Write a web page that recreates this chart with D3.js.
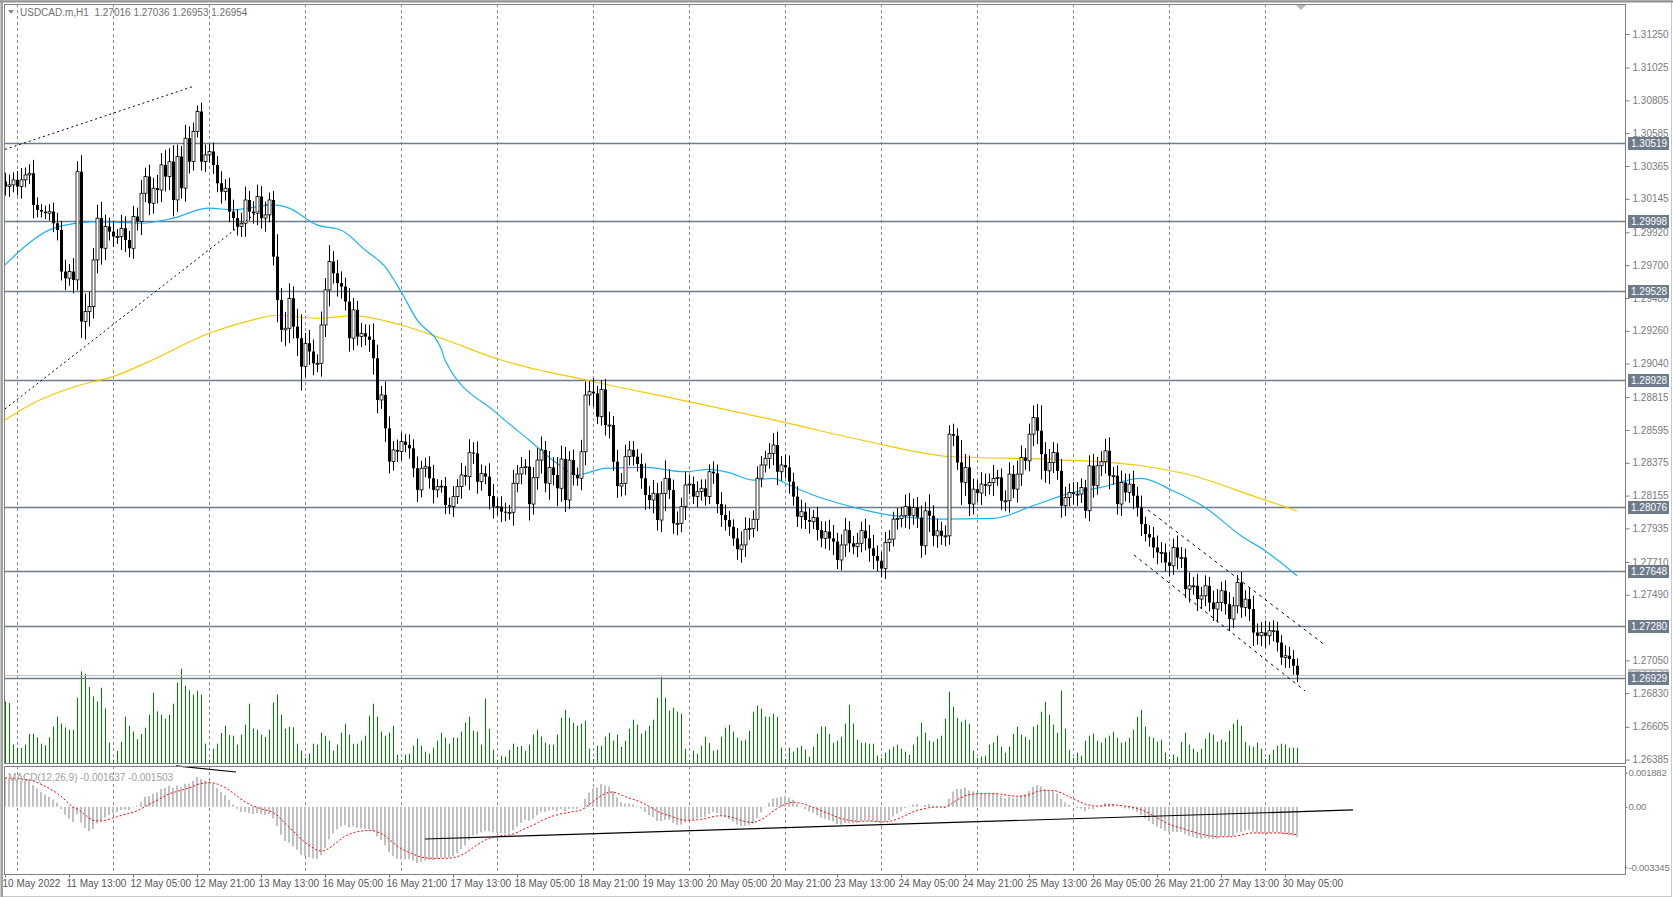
<!DOCTYPE html>
<html>
<head>
<meta charset="utf-8">
<script src="https://cdn.jsdelivr.net/npm/d3@7"></script>
<style>
  body { margin: 0; background: #fff; }
  svg { display: block; font-family: Tahoma, "Liberation Sans", "DejaVu Sans", sans-serif; }
</style>
</head>
<body>
<svg id="chart" width="1673" height="897"></svg>
<script>
// hourly closes USDCAD.m H1, 10 May 21:00 .. 30 May 08:00
const closes = [
1.30227,1.30238,1.30272,1.30227,1.30272,1.30305,1.30316,1.30104,1.30070,1.30059,
1.30048,1.30059,1.29981,1.29936,1.29657,1.29612,1.29657,1.29601,1.30327,1.29322,
1.29389,1.29422,1.29735,1.30015,1.29813,1.29959,1.29925,1.29892,1.29892,1.29947,
1.29869,1.29813,1.30026,1.29992,1.30182,1.30294,1.30115,1.30216,1.30204,1.30372,
1.30294,1.30394,1.30137,1.30428,1.30216,1.30551,1.30394,1.30596,1.30730,1.30394,
1.30439,1.30462,1.30372,1.30249,1.30193,1.30216,1.30059,1.30015,1.29959,1.29981,
1.30137,1.30059,1.30048,1.30160,1.30015,1.30037,1.30137,1.29757,1.29467,1.29266,
1.29277,1.29478,1.29288,1.29210,1.29020,1.29176,1.29121,1.29042,1.29042,1.29299,
1.29534,1.29724,1.29646,1.29579,1.29556,1.29456,1.29210,1.29400,1.29221,1.29243,
1.29221,1.29199,1.29076,1.28796,1.28830,1.28606,1.28383,1.28461,1.28450,1.28517,
1.28495,1.28472,1.28338,1.28193,1.28338,1.28349,1.28271,1.28193,
1.28215,1.28219,1.28092,1.28081,1.28148,1.28215,1.28293,1.28282,1.28443,1.28438,
1.28248,1.28304,1.28282,1.28152,1.28081,1.28081,1.28047,1.28043,1.28043,1.28237,
1.28300,1.28344,1.28349,1.28098,1.28275,1.28393,1.28461,1.28237,1.28344,1.28293,
1.28204,1.28400,1.28125,1.28393,1.28293,1.28271,1.28449,1.28829,1.28852,1.28840,
1.28684,1.28867,1.28628,1.28628,1.28382,1.28219,1.28237,1.28416,1.28461,1.28416,
1.28367,1.28271,1.28159,1.28125,1.28170,1.27991,1.28170,1.28271,1.28192,1.27969,
1.27969,1.28081,1.28226,1.28233,1.28148,1.28181,1.28204,1.28148,1.28315,1.28304,
1.28098,1.28025,1.27991,1.27946,1.27868,1.27795,1.27824,1.27929,1.27935,1.27996,
1.28271,1.28360,1.28405,1.28438,1.28494,1.28315,1.28360,1.28344,1.28248,1.28148,
1.28014,1.28047,1.27991,1.27980,1.28009,1.27924,1.27868,1.27913,1.27868,1.27846,
1.27723,1.27824,1.27924,1.27835,1.27812,1.27835,1.27920,1.27868,1.27801,
1.27751,1.27718,1.27666,1.27841,1.27863,1.27997,1.28002,1.28020,1.28082,1.28020,
1.28075,1.28008,1.27818,1.28053,1.28020,1.27885,1.27919,1.27885,1.27885,1.28567,
1.28556,1.28377,1.28243,1.28344,1.28098,1.28198,1.28172,1.28232,1.28221,1.28243,
1.28270,1.28277,1.28120,1.28120,1.28299,1.28198,1.28299,1.28411,1.28388,1.28567,
1.28679,1.28590,1.28433,1.28321,1.28377,1.28444,1.28321,1.28087,1.28143,1.28176,
1.28165,1.28165,1.28210,1.28053,1.28355,1.28221,1.28355,1.28382,1.28455,1.28288,
1.28288,1.28098,1.28243,1.28176,1.28232,1.28154,1.28075,1.27964,1.27897,1.27874,
1.27807,1.27774,1.27774,1.27707,1.27684,1.27807,1.27740,1.27740,1.27528,1.27550,
1.27550,1.27461,1.27483,1.27550,1.27438,1.27394,1.27438,1.27517,1.27427,1.27327,
1.27416,1.27573,1.27405,1.27461,1.27394,1.27237,1.27215,1.27237,1.27215,1.27249,
1.27249,1.27170,1.27070,1.27081,1.27059,1.27014,1.26954
];
const firstOpen = 1.30260;

// wick length per bar, in points (0.00001)
const wicks = [
60,70,50,60,80,50,60,90,50,40,40,50,60,70,60,80,50,90,70,110,
120,100,80,90,110,80,60,70,50,90,80,60,70,60,90,60,80,70,90,80,
100,90,110,80,70,90,80,60,40,60,70,50,60,60,80,60,70,80,60,70,
90,60,70,80,70,90,50,60,150,80,110,100,80,120,160,70,90,80,60,90,
80,110,70,90,80,60,90,80,60,70,60,80,110,90,60,90,80,60,70,60,
50,70,60,80,50,60,70,90,50,40,60,50,70,50,80,60,90,70,80,60,
50,90,80,60,70,60,50,90,60,70,50,110,70,80,90,60,110,70,120,90,
80,60,70,50,80,90,70,90,50,60,70,90,60,80,70,80,60,60,50,70,
100,60,90,70,80,120,60,70,80,60,90,60,50,70,60,60,50,70,60,80,
70,60,50,70,90,80,70,60,80,60,50,70,80,90,60,70,80,60,70,80,
60,80,50,70,60,70,80,90,60,70,80,60,50,70,60,80,90,90,70,60,
70,60,50,70,60,80,90,60,70,80,60,110,70,80,60,70,60,70,50,150,
90,80,70,60,80,70,60,90,50,60,70,80,60,90,80,60,70,80,90,170,
80,90,70,60,80,70,60,70,80,60,50,70,80,60,70,80,90,60,70,80,
60,70,90,60,80,50,60,70,80,70,60,70,60,80,70,60,90,60,80,60,
70,60,80,90,60,70,80,60,50,70,60,80,90,60,70,80,60,70,60,50,
70,60,60,50
];

// tick volume (relative units)
const volumes = [
185,180,55,45,45,55,88,88,77,58,53,77,109,139,118,107,100,100,196,275,
268,228,200,185,226,164,61,10,37,64,139,112,94,71,87,106,145,211,155,145,
133,145,178,241,283,232,218,205,217,205,58,10,43,58,90,112,84,82,55,85,
115,178,103,100,85,78,100,181,205,145,103,109,107,58,37,15,28,58,55,91,
82,67,37,55,91,118,85,58,58,67,82,142,178,139,94,82,91,112,25,10,
25,28,52,73,52,34,28,46,67,91,76,58,76,76,94,121,139,97,94,55,
193,103,40,10,22,19,40,58,49,51,37,55,85,100,79,61,55,55,85,136,
160,136,121,112,118,127,43,12,52,52,79,91,67,85,49,67,103,130,115,88,
97,112,130,196,259,196,157,166,154,148,43,10,37,28,52,79,61,37,40,79,
106,115,94,76,67,70,97,154,172,163,139,139,148,139,46,12,46,34,46,52,
40,19,49,88,109,109,88,61,67,79,118,175,118,70,61,61,58,58,22,15,
31,40,49,55,43,34,25,55,79,121,91,67,64,73,82,133,214,169,136,124,
130,118,37,15,19,22,55,61,82,49,31,49,88,109,85,79,70,109,115,154,
184,145,115,91,217,103,40,15,31,22,67,82,88,67,61,76,82,94,76,61,
64,76,100,139,160,109,79,76,64,70,31,12,25,19,64,91,55,43,34,43,
73,91,85,64,70,64,97,118,130,112,64,52,49,61,43,12,25,40,52,58,
55,46,46,46
];

// moving averages read at sample bars
const maFastIdx = [0,7,12,23,34,42,51,57,67,71,78,84,90,95,99,103,109,110,123,131,138,143,150,160,170,176,181,187,192,196,202,210,215,222,234,247,257,267,274,284,292,300,309,315,323];
const maFastVal = [1.29702,1.29869,1.29947,1.29992,1.29981,1.30015,1.30082,1.30071,1.30104,1.30082,1.29970,1.29936,1.29802,1.29690,1.29523,1.29333,1.29143,1.29064,1.28706,1.28528,1.28371,1.28293,1.28338,1.28344,1.28315,1.28331,1.28309,1.28259,1.28271,1.28226,1.28159,1.28092,1.28058,1.28020,1.27997,1.28002,1.28087,1.28176,1.28210,1.28270,1.28187,1.28075,1.27886,1.27785,1.27617];
const maSlowIdx = [0,7,18,27,36,51,62,68,78,87,99,109,124,146,171,194,216,236,264,284,297,313,323];
const maSlowVal = [1.28662,1.28774,1.28890,1.28953,1.29053,1.29243,1.29333,1.29364,1.29344,1.29360,1.29299,1.29210,1.29064,1.28925,1.28785,1.28651,1.28516,1.28417,1.28395,1.28355,1.28288,1.28143,1.28053];

// horizontal levels
const levels = [1.30519, 1.29998, 1.29528, 1.28928, 1.28076, 1.27648, 1.27280, 1.26929];
const bidPrice = 1.26954;

// trend lines [i1, p1, i2, p2, style]
const trendLines = [
  [0, 1.30476, 47, 1.30898, "2,3"],
  [0, 1.28736, 66, 1.30117, "2,3"],
  [285.75, 1.28059, 330.25, 1.27147, "3,4"],
  [282.25, 1.27757, 325, 1.26845, "3,4"]
];
const macdLines = [
  [42.75, 0.00226, 57.75, 0.00192],
  [105, -0.00178, 337, -0.000177]
];

const priceTicks = [1.31250,1.31025,1.30805,1.30585,1.30365,1.30145,1.29920,1.29700,1.29480,1.29260,1.29040,1.28815,1.28595,1.28375,1.28155,1.27935,1.27710,1.27490,1.27050,1.26830,1.26605,1.26385];
const macdTicks = [0.001882, 0, -0.003345];
const macdTickText = ["0.001882", "0.00", "-0.003345"];
const dateLabels = ["10 May 2022","11 May 13:00","12 May 05:00","12 May 21:00","13 May 13:00","16 May 05:00","16 May 21:00","17 May 13:00","18 May 05:00","18 May 21:00","19 May 13:00","20 May 05:00","20 May 21:00","23 May 13:00","24 May 05:00","24 May 21:00","25 May 13:00","26 May 05:00","26 May 21:00","27 May 13:00","30 May 05:00"];
const gridIdx = [3,27,51,75,99,123,147,171,195,219,243,267,291,315];
const header = "USDCAD.m,H1  1.27016 1.27036 1.26953 1.26954";
const macdHeader = "MACD(12,26,9) -0.001637 -0.001503";
// indicator state carried over from earlier history
const macdSeed = {ema12: 1.30110, ema26: 1.29950, signal: 0.00160};

const L = 4, R = 1625, T = 4, B = 763, MT = 766, MB = 874;
const FS = "10px";
const svg = d3.select("#chart");
const n = closes.length;
const x = d3.scaleLinear().domain([0, n - 1]).range([5, 5 + 4 * (n - 1)]);
const y = d3.scaleLinear().domain([1.26362, 1.31451]).range([B, T]);
const yVol = d3.scaleLinear().domain([0, 283]).range([B, B - 94.3]);
const yM = d3.scaleLinear().domain([-0.003345, 0.001882]).range([867.3, 772.7]);

// outer frame
svg.append("rect").attr("x", 0.5).attr("y", 0.5).attr("width", 1671).attr("height", 896).attr("fill", "none").attr("stroke", "#c8c8c8");
svg.append("line").attr("x1", 0).attr("x2", 1673).attr("y1", 1.5).attr("y2", 1.5).attr("stroke", "#909090").attr("stroke-width", 2);

svg.append("clipPath").attr("id", "cm").append("rect").attr("x", L).attr("y", T).attr("width", R - L).attr("height", B - T);
svg.append("clipPath").attr("id", "cd").append("rect").attr("x", L).attr("y", MT).attr("width", R - L).attr("height", MB - MT);

// grid
svg.append("g").selectAll("line").data(gridIdx).join("line")
  .attr("x1", d => x(d) + 0.5).attr("x2", d => x(d) + 0.5).attr("y1", T).attr("y2", MB)
  .attr("stroke", "#8c8c8c").attr("stroke-dasharray", "3,3");

const main = svg.append("g").attr("clip-path", "url(#cm)");

// volumes
main.append("g").selectAll("line").data(volumes).join("line")
  .attr("x1", (d, i) => x(i) + 0.5).attr("x2", (d, i) => x(i) + 0.5)
  .attr("y1", B).attr("y2", d => yVol(d)).attr("stroke", "#008000").attr("stroke-width", 1);

// levels
main.append("line").attr("x1", L).attr("x2", R).attr("y1", Math.round(y(bidPrice)) + 0.5).attr("y2", Math.round(y(bidPrice)) + 0.5).attr("stroke", "#c0c0c0");
main.append("g").selectAll("line").data(levels).join("line")
  .attr("x1", L).attr("x2", R).attr("y1", d => Math.round(y(d)) + 0.5).attr("y2", d => Math.round(y(d)) + 0.5)
  .attr("stroke", "#6e7b8b").attr("stroke-width", 1.3);

// moving averages
const maLine = d3.line().x(d => x(d[0])).y(d => y(d[1])).curve(d3.curveMonotoneX);
main.append("path").attr("d", maLine(maSlowIdx.map((d, i) => [d, maSlowVal[i]]))).attr("fill", "none").attr("stroke", "#f5c800").attr("stroke-width", 1.2);
main.append("path").attr("d", maLine(maFastIdx.map((d, i) => [d, maFastVal[i]]))).attr("fill", "none").attr("stroke", "#1ab2f0").attr("stroke-width", 1.2);

// candles
const bars = closes.map((c, i) => {
  const o = i === 0 ? firstOpen : closes[i - 1];
  const w = wicks[i] / 1e5;
  return {i, o, c, h: Math.max(o, c) + w, l: Math.min(o, c) - w};
});
const cg = main.append("g");
cg.selectAll("line").data(bars).join("line")
  .attr("x1", d => x(d.i) + 0.5).attr("x2", d => x(d.i) + 0.5)
  .attr("y1", d => y(d.h)).attr("y2", d => y(d.l)).attr("stroke", "#000");
cg.selectAll("rect").data(bars).join("rect")
  .attr("x", d => x(d.i) - 1).attr("width", 3)
  .attr("y", d => y(Math.max(d.o, d.c))).attr("height", d => Math.max(1, Math.abs(y(d.o) - y(d.c))))
  .attr("fill", d => d.c >= d.o ? "#fff" : "#000").attr("stroke", "#000").attr("stroke-width", d => d.c >= d.o ? 0.8 : 0);

// trend lines
main.append("g").selectAll("line").data(trendLines).join("line")
  .attr("x1", d => x(d[0])).attr("y1", d => y(d[1])).attr("x2", d => x(d[2])).attr("y2", d => y(d[3]))
  .attr("stroke", "#000").attr("stroke-dasharray", d => d[4]);

// MACD
let e12 = macdSeed.ema12, e26 = macdSeed.ema26, sig = macdSeed.signal;
const macd = closes.map(c => {
  e12 += (c - e12) * 2 / 13;
  e26 += (c - e26) * 2 / 27;
  const m = e12 - e26;
  sig += (m - sig) * 2 / 10;
  return {m, s: sig};
});
const mg = svg.append("g").attr("clip-path", "url(#cd)");
mg.selectAll("rect").data(macd).join("rect")
  .attr("x", (d, i) => x(i) - 1).attr("width", 2)
  .attr("y", d => Math.min(yM(0), yM(d.m))).attr("height", d => Math.abs(yM(d.m) - yM(0)))
  .attr("fill", "#c0c0c0");
mg.append("path").attr("d", d3.line().x((d, i) => x(i)).y(d => yM(d.s))(macd))
  .attr("fill", "none").attr("stroke", "#ff0000").attr("stroke-dasharray", "2,2");
svg.append("g").selectAll("line").data(macdLines).join("line")
  .attr("x1", d => x(d[0])).attr("y1", d => yM(d[1])).attr("x2", d => x(d[2])).attr("y2", d => yM(d[3]))
  .attr("stroke", "#000").attr("stroke-width", 1.2);

// panel frames
svg.append("rect").attr("x", L + 0.5).attr("y", T + 0.5).attr("width", R - L).attr("height", B - T).attr("fill", "none").attr("stroke", "#808080");
svg.append("rect").attr("x", L + 0.5).attr("y", MT + 0.5).attr("width", R - L).attr("height", MB - MT).attr("fill", "none").attr("stroke", "#808080");
svg.append("line").attr("x1", 2).attr("x2", 2).attr("y1", 0).attr("y2", 897).attr("stroke", "#a0a0a0").attr("stroke-width", 2);

// price axis
const pa = svg.append("g").attr("transform", `translate(${R + 0.5},0)`)
  .call(d3.axisRight(y).tickValues(priceTicks).tickFormat(d3.format(".5f")).tickSize(4).tickPadding(3));
pa.select(".domain").remove();
pa.selectAll("text").attr("fill", "#7a7a7a").style("font-size", FS);
pa.selectAll("line").attr("stroke", "#7a7a7a");

const ma = svg.append("g").attr("transform", `translate(${R + 0.5},0)`)
  .call(d3.axisRight(yM).tickValues(macdTicks).tickFormat((d, i) => macdTickText[i]).tickSize(2).tickPadding(1));
ma.select(".domain").remove();
ma.selectAll("text").attr("fill", "#7a7a7a").style("font-size", "9.5px").attr("letter-spacing", "-0.2");
ma.selectAll("line").attr("stroke", "#7a7a7a");

// price badges
const badge = (p, fill) => {
  const yy = Math.round(y(p));
  svg.append("rect").attr("x", R + 3).attr("y", yy - 6).attr("width", 41).attr("height", 13).attr("fill", fill);
  svg.append("text").attr("x", R + 6).attr("y", yy + 4).attr("fill", "#fff").style("font-size", FS).text(d3.format(".5f")(p));
};
badge(bidPrice, "#c0c0c0");
levels.forEach(p => badge(p, "#6e7b8b"));

// time axis
const ta = svg.append("g").attr("transform", `translate(0,${MB + 0.5})`)
  .call(d3.axisBottom(x).tickValues(d3.range(0, n, 16)).tickFormat((d, i) => dateLabels[i]).tickSize(3).tickPadding(2));
ta.select(".domain").remove();
ta.selectAll("text").attr("text-anchor", "start").attr("dx", -3).attr("fill", "#555").style("font-size", FS);
ta.selectAll("line").attr("stroke", "#777");

// headers
svg.append("path").attr("d", "M8,10 L14,10 L11,14 Z").attr("fill", "#8a8a8a");
svg.append("text").attr("x", 20).attr("y", 16).attr("fill", "#707070").style("font-size", FS).attr("xml:space", "preserve").text(header);
svg.append("text").attr("x", 8).attr("y", 781).attr("fill", "#a0a0a0").style("font-size", FS).text(macdHeader);
svg.append("path").attr("d", "M1296,5 L1306,5 L1301,10 Z").attr("fill", "#b8b8b8");
</script>
</body>
</html>
